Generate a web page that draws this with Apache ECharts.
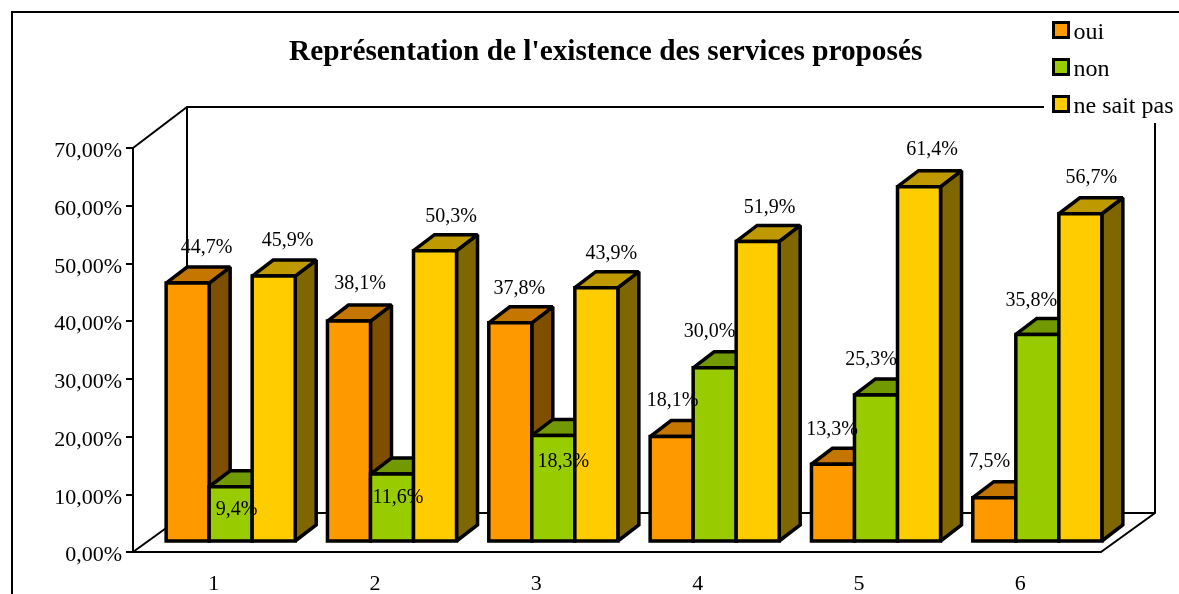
<!DOCTYPE html>
<html lang="fr">
	<head>
		<meta charset="UTF-8">
		<title>services</title>
		<style>
			html, body { margin: 0; padding: 0; background: #fff; }
		</style>
	</head>
	<body>
		<div id="chart" style="width:1179px; height:594px"></div>
		<script src="https://cdn.jsdelivr.net/npm/echarts@6/dist/echarts.min.js"></script>
		<script>
			var categories = ['1', '2', '3', '4', '5', '6'];
			var oui = [44.7, 38.1, 37.8, 18.1, 13.3, 7.5];
			var non = [9.4, 11.6, 18.3, 30.0, 25.3, 35.8];
			var nsp = [45.9, 50.3, 43.9, 51.9, 61.4, 56.7];
			var yTicks = [0, 10, 20, 30, 40, 50, 60, 70];

			var FONT = '"Liberation Serif", "Times New Roman", serif';
			// profondeur du cadre et des barres (pseudo 3D)
			var WALL_X = 54, WALL_TOP = 41, WALL_Y = 39;
			var BAR_X = 21, BAR_Y = 16;
			var SHIFT_X = 17, SHIFT_Y = 11;

			// petits decalages des etiquettes, par serie et par categorie
			var nudgeOui = [[19, -35], [11, -37], [9, -34], [1, -36], [-1, -34], [-5, -36]];
			var nudgeNon = [[6, 23], [6, 24], [10, 26], [-5, -36], [-5, -35], [-6, -34]];
			var nudgeNsp = [[14, -35], [16, -34], [15, -34], [12, -34], [13, -37], [11, -36]];

			function pct(v) {
				return v.toFixed(1).replace('.', ',') + '%';
			}

			function pairs(values) {
				return values.map(function (v, i) { return [i, v]; });
			}

			// une barre : cote, dessus, face, etiquette
			function barRenderer(slot, front, top, side, nudge) {
				return function (params, api) {
					var i = api.value(0);
					var v = api.value(1);
					var band = api.size([1, 0])[0];
					var w = band * 0.8 / 3;
					var base = api.coord([i, 0]);
					var head = api.coord([i, v]);
					var x0 = base[0] - w * 1.5 + slot * w + SHIFT_X;
					var x1 = x0 + w;
					var y0 = base[1] - SHIFT_Y;
					var y1 = head[1] - SHIFT_Y;
					var line = { stroke: '#000', lineWidth: 3.5, lineJoin: 'miter', miterLimit: 2 };
					return {
						type: 'group',
						children: [{
							type: 'polygon',
							shape: { points: [[x1, y0], [x1 + BAR_X, y0 - BAR_Y], [x1 + BAR_X, y1 - BAR_Y], [x1, y1]] },
							style: Object.assign({ fill: side }, line)
						}, {
							type: 'polygon',
							shape: { points: [[x0, y1], [x0 + BAR_X, y1 - BAR_Y], [x1 + BAR_X, y1 - BAR_Y], [x1, y1]] },
							style: Object.assign({ fill: top }, line)
						}, {
							type: 'polygon',
							shape: { points: [[x0, y0], [x0, y1], [x1, y1], [x1, y0]] },
							style: Object.assign({ fill: front }, line)
						}, {
							type: 'text',
							z2: 100,
							x: (x0 + x1) / 2 + nudge[i][0],
							y: y1 + nudge[i][1],
							style: {
								text: pct(v),
								fill: '#000',
								font: '20px ' + FONT,
								align: 'center',
								verticalAlign: 'middle'
							}
						}]
					};
				};
			}

			function barSeries(name, values, slot, front, top, side, nudge) {
				return {
					name: name,
					type: 'custom',
					silent: true,
					itemStyle: { color: front },
					encode: { x: 0, y: 1 },
					data: pairs(values),
					renderItem: barRenderer(slot, front, top, side, nudge)
				};
			}

			// murs du fond et plancher
			function renderFrame(params, api) {
				var cs = params.coordSys;
				var l = cs.x, r = cs.x + cs.width, t = cs.y, b = cs.y + cs.height;
				var style = { stroke: '#000', lineWidth: 2, fill: null };
				var segs = [
					[[l, t], [l + WALL_X, t - WALL_TOP], [r + WALL_X, t - WALL_TOP], [r + WALL_X, b - WALL_Y], [r, b]],
					[[l, b], [l + WALL_X, b - WALL_Y], [r + WALL_X, b - WALL_Y]],
					[[l + WALL_X, t - WALL_TOP], [l + WALL_X, b - WALL_Y]]
				];
				return {
					type: 'group',
					children: segs.map(function (pts) {
						return { type: 'polyline', shape: { points: pts }, style: style };
					})
				};
			}

			var chart = echarts.init(document.getElementById('chart'), null, { renderer: 'canvas' });
			var option = {
				animation: false,
				backgroundColor: '#fff',
				textStyle: { fontFamily: FONT, color: '#000' },
				title: {
					text: "Représentation de l'existence des services proposés",
					left: 284,
					top: 33,
					textStyle: { fontFamily: FONT, fontSize: 29.3, fontWeight: 'bold', color: '#000' }
				},
				legend: {
					orient: 'vertical',
					left: 1044,
					top: 13,
					padding: [8, 6, 4, 8],
					backgroundColor: '#fff',
					itemWidth: 15,
					itemHeight: 15,
					itemGap: 13,
					selectedMode: false,
					formatter: '{t|{name}}',
					textStyle: {
						fontFamily: FONT,
						fontSize: 24,
						color: '#000',
						rich: { t: { fontFamily: FONT, fontSize: 24, color: '#000', padding: [6, 0, 0, 0] } }
					},
					data: [
						{ name: 'oui', icon: 'rect', itemStyle: { color: '#FF9900', borderColor: '#000', borderWidth: 3 } },
						{ name: 'non', icon: 'rect', itemStyle: { color: '#99CC00', borderColor: '#000', borderWidth: 3 } },
						{ name: 'ne sait pas', icon: 'rect', itemStyle: { color: '#FFCC00', borderColor: '#000', borderWidth: 3 } }
					]
				},
				grid: { left: 133, right: 78, top: 148, bottom: 42, outerBoundsMode: 'none' },
				xAxis: {
					type: 'category',
					data: categories,
					axisLine: { lineStyle: { color: '#000', width: 2 } },
					axisTick: { length: 10, lineStyle: { color: '#000', width: 2 } },
					axisLabel: { fontFamily: FONT, fontSize: 22, color: '#000', margin: 21 }
				},
				yAxis: {
					type: 'value',
					min: yTicks[0],
					max: yTicks[yTicks.length - 1],
					interval: 10,
					splitLine: { show: false },
					axisLine: { show: true, lineStyle: { color: '#000', width: 2 } },
					axisTick: { show: true, length: 7, lineStyle: { color: '#000', width: 2 } },
					axisLabel: {
						fontFamily: FONT,
						fontSize: 22,
						color: '#000',
						margin: 11,
						rich: { t: { fontFamily: FONT, fontSize: 22, color: '#000', padding: [7, 0, 0, 0] } },
						formatter: function (v) { return '{t|' + v.toFixed(2).replace('.', ',') + '%}'; }
					}
				},
				graphic: [{
					type: 'rect',
					silent: true,
					z: -1,
					shape: { x: 12, y: 12, width: 1300, height: 700 },
					style: { fill: null, stroke: '#000', lineWidth: 2 }
				}],
				series: [
					{ name: 'cadre', type: 'custom', silent: true, data: [[0, 0]], encode: { x: 0, y: 1 }, renderItem: renderFrame },
					barSeries('oui', oui, 0, '#FF9900', '#C47600', '#7F4F00', nudgeOui),
					barSeries('non', non, 1, '#99CC00', '#739900', '#4D6600', nudgeNon),
					barSeries('ne sait pas', nsp, 2, '#FFCC00', '#BF9900', '#7F6600', nudgeNsp)
				]
			};
			chart.setOption(option);
		</script>
	</body>
</html>
